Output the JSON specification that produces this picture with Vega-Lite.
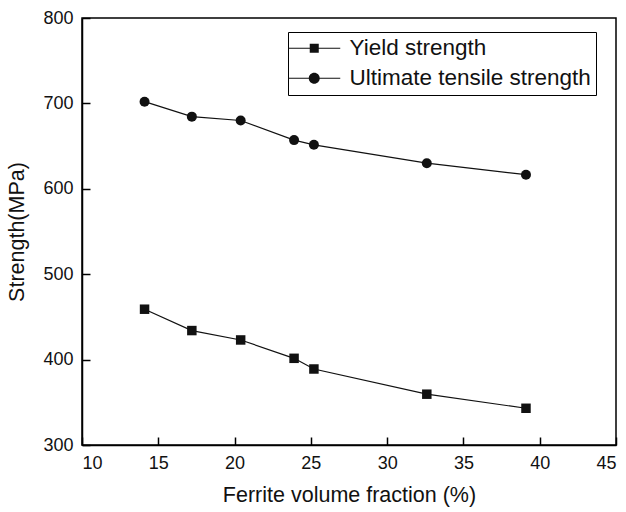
{
  "$schema": "https://vega.github.io/schema/vega-lite/v6.json",
  "autosize": {"type": "none"},
  "width": 534,
  "height": 427,
  "padding": {"left": 82, "top": 18, "right": 10, "bottom": 67},
  "config": {
    "font": "Liberation Sans",
    "view": {"stroke": "black", "strokeWidth": 1.5},
    "axis": {
      "grid": false,
      "domainColor": "black",
      "domainWidth": 1.5,
      "tickColor": "black",
      "tickWidth": 1.5,
      "tickSize": -8,
      "labelPadding": 17,
      "labelFontSize": 18,
      "labelColor": "#111",
      "titleFontSize": 21.5,
      "titleFontWeight": "normal",
      "titleColor": "#111"
    }
  },
  "data": {
    "values": [
      {"x": 14.1, "y": 459, "series": "Yield strength"},
      {"x": 17.2, "y": 434, "series": "Yield strength"},
      {"x": 20.4, "y": 423, "series": "Yield strength"},
      {"x": 23.9, "y": 401.5, "series": "Yield strength"},
      {"x": 25.2, "y": 389, "series": "Yield strength"},
      {"x": 32.6, "y": 359.5, "series": "Yield strength"},
      {"x": 39.1, "y": 343, "series": "Yield strength"},
      {"x": 14.1, "y": 702, "series": "Ultimate tensile strength"},
      {"x": 17.2, "y": 684.5, "series": "Ultimate tensile strength"},
      {"x": 20.4, "y": 680, "series": "Ultimate tensile strength"},
      {"x": 23.9, "y": 657, "series": "Ultimate tensile strength"},
      {"x": 25.2, "y": 651.5, "series": "Ultimate tensile strength"},
      {"x": 32.6, "y": 630, "series": "Ultimate tensile strength"},
      {"x": 39.1, "y": 616.5, "series": "Ultimate tensile strength"}
    ]
  },
  "encoding": {
    "x": {
      "field": "x", "type": "quantitative",
      "scale": {"domain": [10, 45], "nice": false, "zero": false},
      "axis": {"values": [10, 15, 20, 25, 30, 35, 40, 45], "title": "Ferrite volume fraction (%)", "titlePadding": 12}
    },
    "y": {
      "field": "y", "type": "quantitative",
      "scale": {"domain": [300, 800], "nice": false, "zero": false},
      "axis": {"values": [300, 400, 500, 600, 700, 800], "title": "Strength(MPa)", "titlePadding": 14}
    }
  },
  "layer": [
    {
      "mark": {"type": "line", "color": "#111", "strokeWidth": 1.2},
      "encoding": {"detail": {"field": "series"}}
    },
    {
      "mark": {"type": "point", "filled": true, "color": "#111", "opacity": 1},
      "encoding": {
        "shape": {
          "field": "series",
          "scale": {"domain": ["Yield strength", "Ultimate tensile strength"], "range": ["square", "circle"]},
          "legend": null
        },
        "size": {
          "field": "series",
          "scale": {"domain": ["Yield strength", "Ultimate tensile strength"], "range": [90, 100]},
          "legend": null
        }
      }
    },
    {
      "mark": {"type": "point", "filled": true, "color": "#111", "opacity": 0},
      "encoding": {
        "shape": {
          "field": "series",
          "scale": {
            "domain": ["Yield strength", "Ultimate tensile strength"],
            "range": [
              "M-4.73,-0.11H-0.8V0.11H-4.73ZM0.8,-0.11H4.73V0.11H0.8ZM-0.82,-0.82H0.82V0.82H-0.82Z",
              "M-4.73,-0.11H-0.9V0.11H-4.73ZM0.9,-0.11H4.73V0.11H0.9ZM-1,0A1,1 0 1,1 1,0A1,1 0 1,1 -1,0Z"
            ]
          },
          "legend": {
            "title": null,
            "orient": "none",
            "legendX": 206,
            "legendY": 14,
            "padding": 5,
            "strokeColor": "black",
            "fillColor": "white",
            "symbolSize": 121,
            "symbolOffset": 10,
            "symbolOpacity": 1,
            "symbolFillColor": "#111",
            "symbolStrokeWidth": 0,
            "labelFontSize": 22.5,
            "labelColor": "#111",
            "labelOffset": 24,
            "rowPadding": 7,
            "labelLimit": 400,
            "encode": {
              "symbols": {
                "update": {
                  "fill": {"value": "#111"},
                  "fillOpacity": {"value": 1},
                  "opacity": {"value": 1}
                }
              }
            }
          }
        }
      }
    }
  ],
  "resolve": {"scale": {"shape": "independent", "size": "independent"}}
}
